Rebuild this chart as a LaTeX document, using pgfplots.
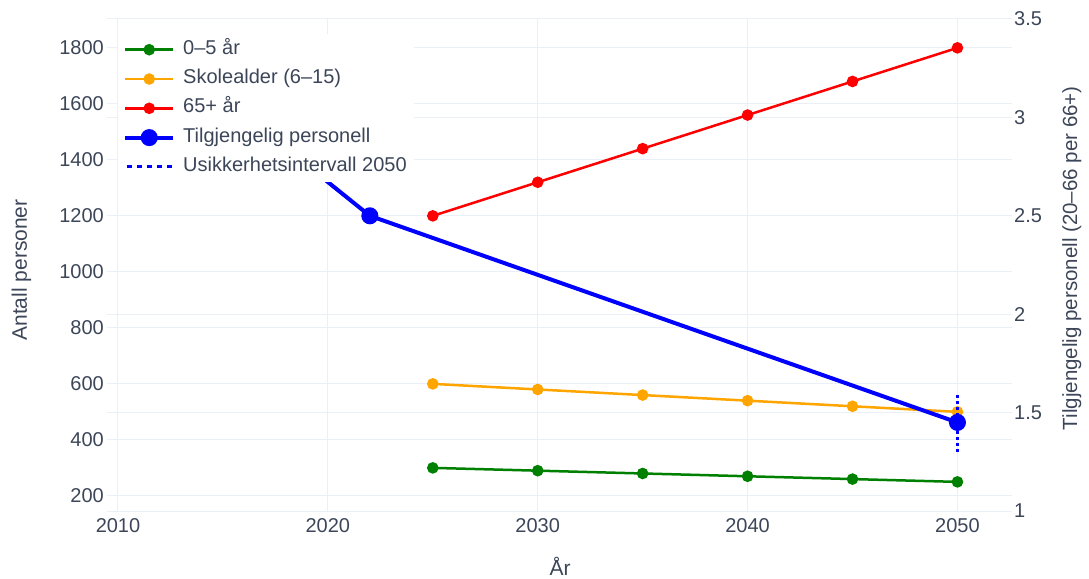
\documentclass[border=0pt]{standalone}
\usepackage{pgfplots}
\pgfplotsset{compat=1.18}
\usepackage{fontspec}
\setmainfont{Liberation Sans}

\definecolor{textcol}{HTML}{3C4658}
\definecolor{gridcol}{HTML}{EBF0F8}
\definecolor{c05}{HTML}{008000}
\definecolor{cskole}{HTML}{FFA500}
\definecolor{c65}{HTML}{FF0000}
\definecolor{cpers}{HTML}{0000FF}

\pgfplotsset{
  thinser/.style={line width=2.5pt, mark=*, mark size=4.5pt, mark options={draw=none}},
  base/.style={
    at={(107pt,65pt)}, anchor=south west,
    width=905pt, height=492pt, scale only axis,
    xmin=2009.476, xmax=2052.6,
    axis line style={draw=none},
    major tick length=0pt,
    grid style={gridcol, line width=1pt},
    tick label style={font=\fontsize{20}{24}\selectfont, text=textcol},
    /pgf/number format/assume math mode=true,
    /pgf/number format/1000 sep={},
    set layers,
  },
}

\begin{document}
\begin{tikzpicture}
% venstre akse: antall personer
\begin{axis}[
  base,
  ymin=146, ymax=1903,
  xtick={2010,2020,2030,2040,2050},
  ytick={200,400,600,800,1000,1200,1400,1600,1800},
  xmajorgrids, ymajorgrids,
  xticklabel style={anchor=north, inner sep=0pt, yshift=-7pt},
  yticklabel style={anchor=east, inner sep=0pt, xshift=-3pt},
  xlabel={År}, ylabel={Antall personer},
  every axis x label/.style={at={(axis description cs:0.5006,-0.112)}, anchor=center,
    font=\fontsize{21}{25}\selectfont, text=textcol},
  every axis y label/.style={at={(axis description cs:-0.0945,0.49)}, anchor=center, rotate=90,
    font=\fontsize{21}{25}\selectfont, text=textcol},
]
\addplot[thinser, color=c05] coordinates {
  (2025,300) (2030,290) (2035,280) (2040,270) (2045,260) (2050,250)
};
\addplot[thinser, color=cskole] coordinates {
  (2025,600) (2030,580) (2035,560) (2040,540) (2045,520) (2050,500)
};
\addplot[thinser, color=c65] coordinates {
  (2025,1200) (2030,1320) (2035,1440) (2040,1560) (2045,1680) (2050,1800)
};
\end{axis}

% hoyre akse: tilgjengelig personell
\begin{axis}[
  base,
  ymin=1, ymax=3.5,
  axis x line=none,
  axis y line*=right,
  ytick={1,1.5,2,2.5,3,3.5},
  ymajorgrids,
  yticklabel style={anchor=west, inner sep=0pt, xshift=2pt},
  ylabel={Tilgjengelig personell (20–66 per 66+)},
  every axis y label/.style={at={(axis description cs:1.066,0.514)}, anchor=center, rotate=90,
    font=\fontsize{20.5}{25}\selectfont, text=textcol},
  legend cell align=left,
  legend image code/.code={\draw[mark repeat=2,mark phase=2,#1] plot coordinates {(0pt,0pt)(24pt,0pt)(48pt,0pt)};},
  legend style={at={(rel axis cs:0.0122,0.9695)}, anchor=north west, draw=none, fill=white,
    font=\fontsize{20}{24}\selectfont, text=textcol, inner xsep=5pt, inner ysep=4pt,
    row sep=6.3pt, column sep=6pt,
    nodes={inner sep=2pt, text height=14pt, text depth=5pt}},
]
\addlegendimage{thinser, color=c05}
\addlegendentry{0–5 år}
\addlegendimage{thinser, color=cskole}
\addlegendentry{Skolealder (6–15)}
\addlegendimage{thinser, color=c65}
\addlegendentry{65+ år}
\addplot[color=cpers, line width=4pt, mark=*, mark size=6.5pt, mark options={draw=none}] coordinates {
  (2015,3.1) (2022,2.5) (2050,1.45)
};
\addlegendentry{Tilgjengelig personell}
\addlegendimage{color=cpers, line width=3pt, dash pattern=on 5pt off 5pt, dash phase=-2pt}
\addlegendentry{Usikkerhetsintervall 2050}
\addplot[color=cpers, line width=3pt, dash pattern=on 3pt off 3pt, forget plot] coordinates {
  (2050,1.3) (2050,1.6)
};
\end{axis}
\path (0,0) rectangle (1089pt,576pt);
\end{tikzpicture}
\end{document}
